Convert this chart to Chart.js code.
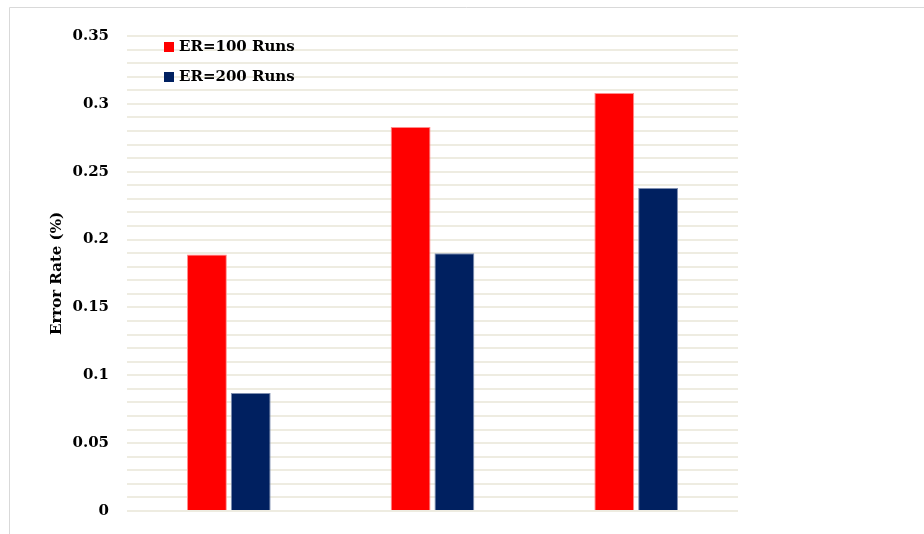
<!DOCTYPE html>
<html>
<head>
<meta charset="utf-8">
<script src="https://cdn.jsdelivr.net/npm/chart.js@4.4.1/dist/chart.umd.min.js"></script>
<style>
  html, body { margin: 0; padding: 0; background: #ffffff; }
  #wrap { width: 924px; height: 534px; position: relative; }
</style>
</head>
<body>
<div id="wrap"><canvas id="chart" width="924" height="534"></canvas></div>
<script>
// Experiment groups (no axis labels are shown on the category axis)
const categories = ['Group 1', 'Group 2', 'Group 3'];

// Error rate per group, in percent
const er100Values = [0.189, 0.283, 0.308];
const er200Values = [0.087, 0.190, 0.238];

const seriesLabels = ['ER=100 Runs', 'ER=200 Runs'];

// Labelled ticks on the value axis (every 0.05)
const yTickLabels = ['0', '0.05', '0.1', '0.15', '0.2', '0.25', '0.3', '0.35'];

const FONT_FAMILY = '"DejaVu Serif", "Liberation Serif", serif';

// Thin frame around the chart
const framePlugin = {
  id: 'frame',
  beforeDraw(chart) {
    const ctx = chart.ctx;
    ctx.save();
    ctx.strokeStyle = '#d9d9d9';
    ctx.lineWidth = 1;
    ctx.beginPath();
    ctx.moveTo(9.5, chart.height);
    ctx.lineTo(9.5, 7.5);
    ctx.lineTo(chart.width, 7.5);
    ctx.stroke();
    ctx.restore();
  }
};

// Legend drawn inside the plot area, stacked vertically
const innerLegendPlugin = {
  id: 'innerLegend',
  afterDatasetsDraw(chart) {
    const ctx = chart.ctx;
    const x0 = chart.chartArea.left + 37;
    const y0 = chart.chartArea.top + 11;
    const rowGap = 30;
    ctx.save();
    ctx.font = 'bold 15px ' + FONT_FAMILY;
    ctx.textBaseline = 'middle';
    ctx.textAlign = 'left';
    chart.data.datasets.forEach((ds, i) => {
      const cy = y0 + i * rowGap;
      ctx.fillStyle = ds.backgroundColor;
      ctx.fillRect(x0, cy - 5, 10, 10);
      ctx.fillStyle = '#000000';
      ctx.fillText(ds.label, x0 + 15, cy);
    });
    ctx.restore();
  }
};

new Chart(document.getElementById('chart'), {
  type: 'bar',
  data: {
    labels: categories,
    datasets: [
      {
        label: seriesLabels[0],
        data: er100Values,
        backgroundColor: '#ff0000',
        borderColor: '#ff8c8c',
        borderWidth: 1,
        categoryPercentage: 0.43,
        barPercentage: 0.91
      },
      {
        label: seriesLabels[1],
        data: er200Values,
        backgroundColor: '#002060',
        borderColor: '#7f8fb0',
        borderWidth: 1,
        categoryPercentage: 0.43,
        barPercentage: 0.91
      }
    ]
  },
  options: {
    responsive: false,
    animation: false,
    layout: { padding: { left: 9, right: 186, top: 36, bottom: 23 } },
    plugins: {
      legend: { display: false },
      tooltip: { enabled: false }
    },
    scales: {
      x: {
        display: false
      },
      y: {
        min: 0,
        max: 0.35,
        border: { display: false },
        grid: {
          color: '#eeece1',
          lineWidth: 2,
          drawTicks: true,
          tickLength: 18,
          tickColor: 'rgba(0,0,0,0)'
        },
        ticks: {
          stepSize: 0.01,
          autoSkip: false,
          padding: 0,
          color: '#000000',
          font: { family: FONT_FAMILY, size: 15, weight: 'bold' },
          callback(value) {
            const hundredths = Math.round(value * 100);
            if (hundredths % 5 !== 0) return '';
            return yTickLabels[hundredths / 5];
          }
        },
        title: {
          display: true,
          text: 'Error Rate (%)',
          color: '#000000',
          font: { family: FONT_FAMILY, size: 15, weight: 'bold' },
          padding: { top: 39, bottom: 0 }
        },
        afterFit(scale) { scale.width = 118; }
      }
    }
  },
  plugins: [framePlugin, innerLegendPlugin]
});
</script>
</body>
</html>
